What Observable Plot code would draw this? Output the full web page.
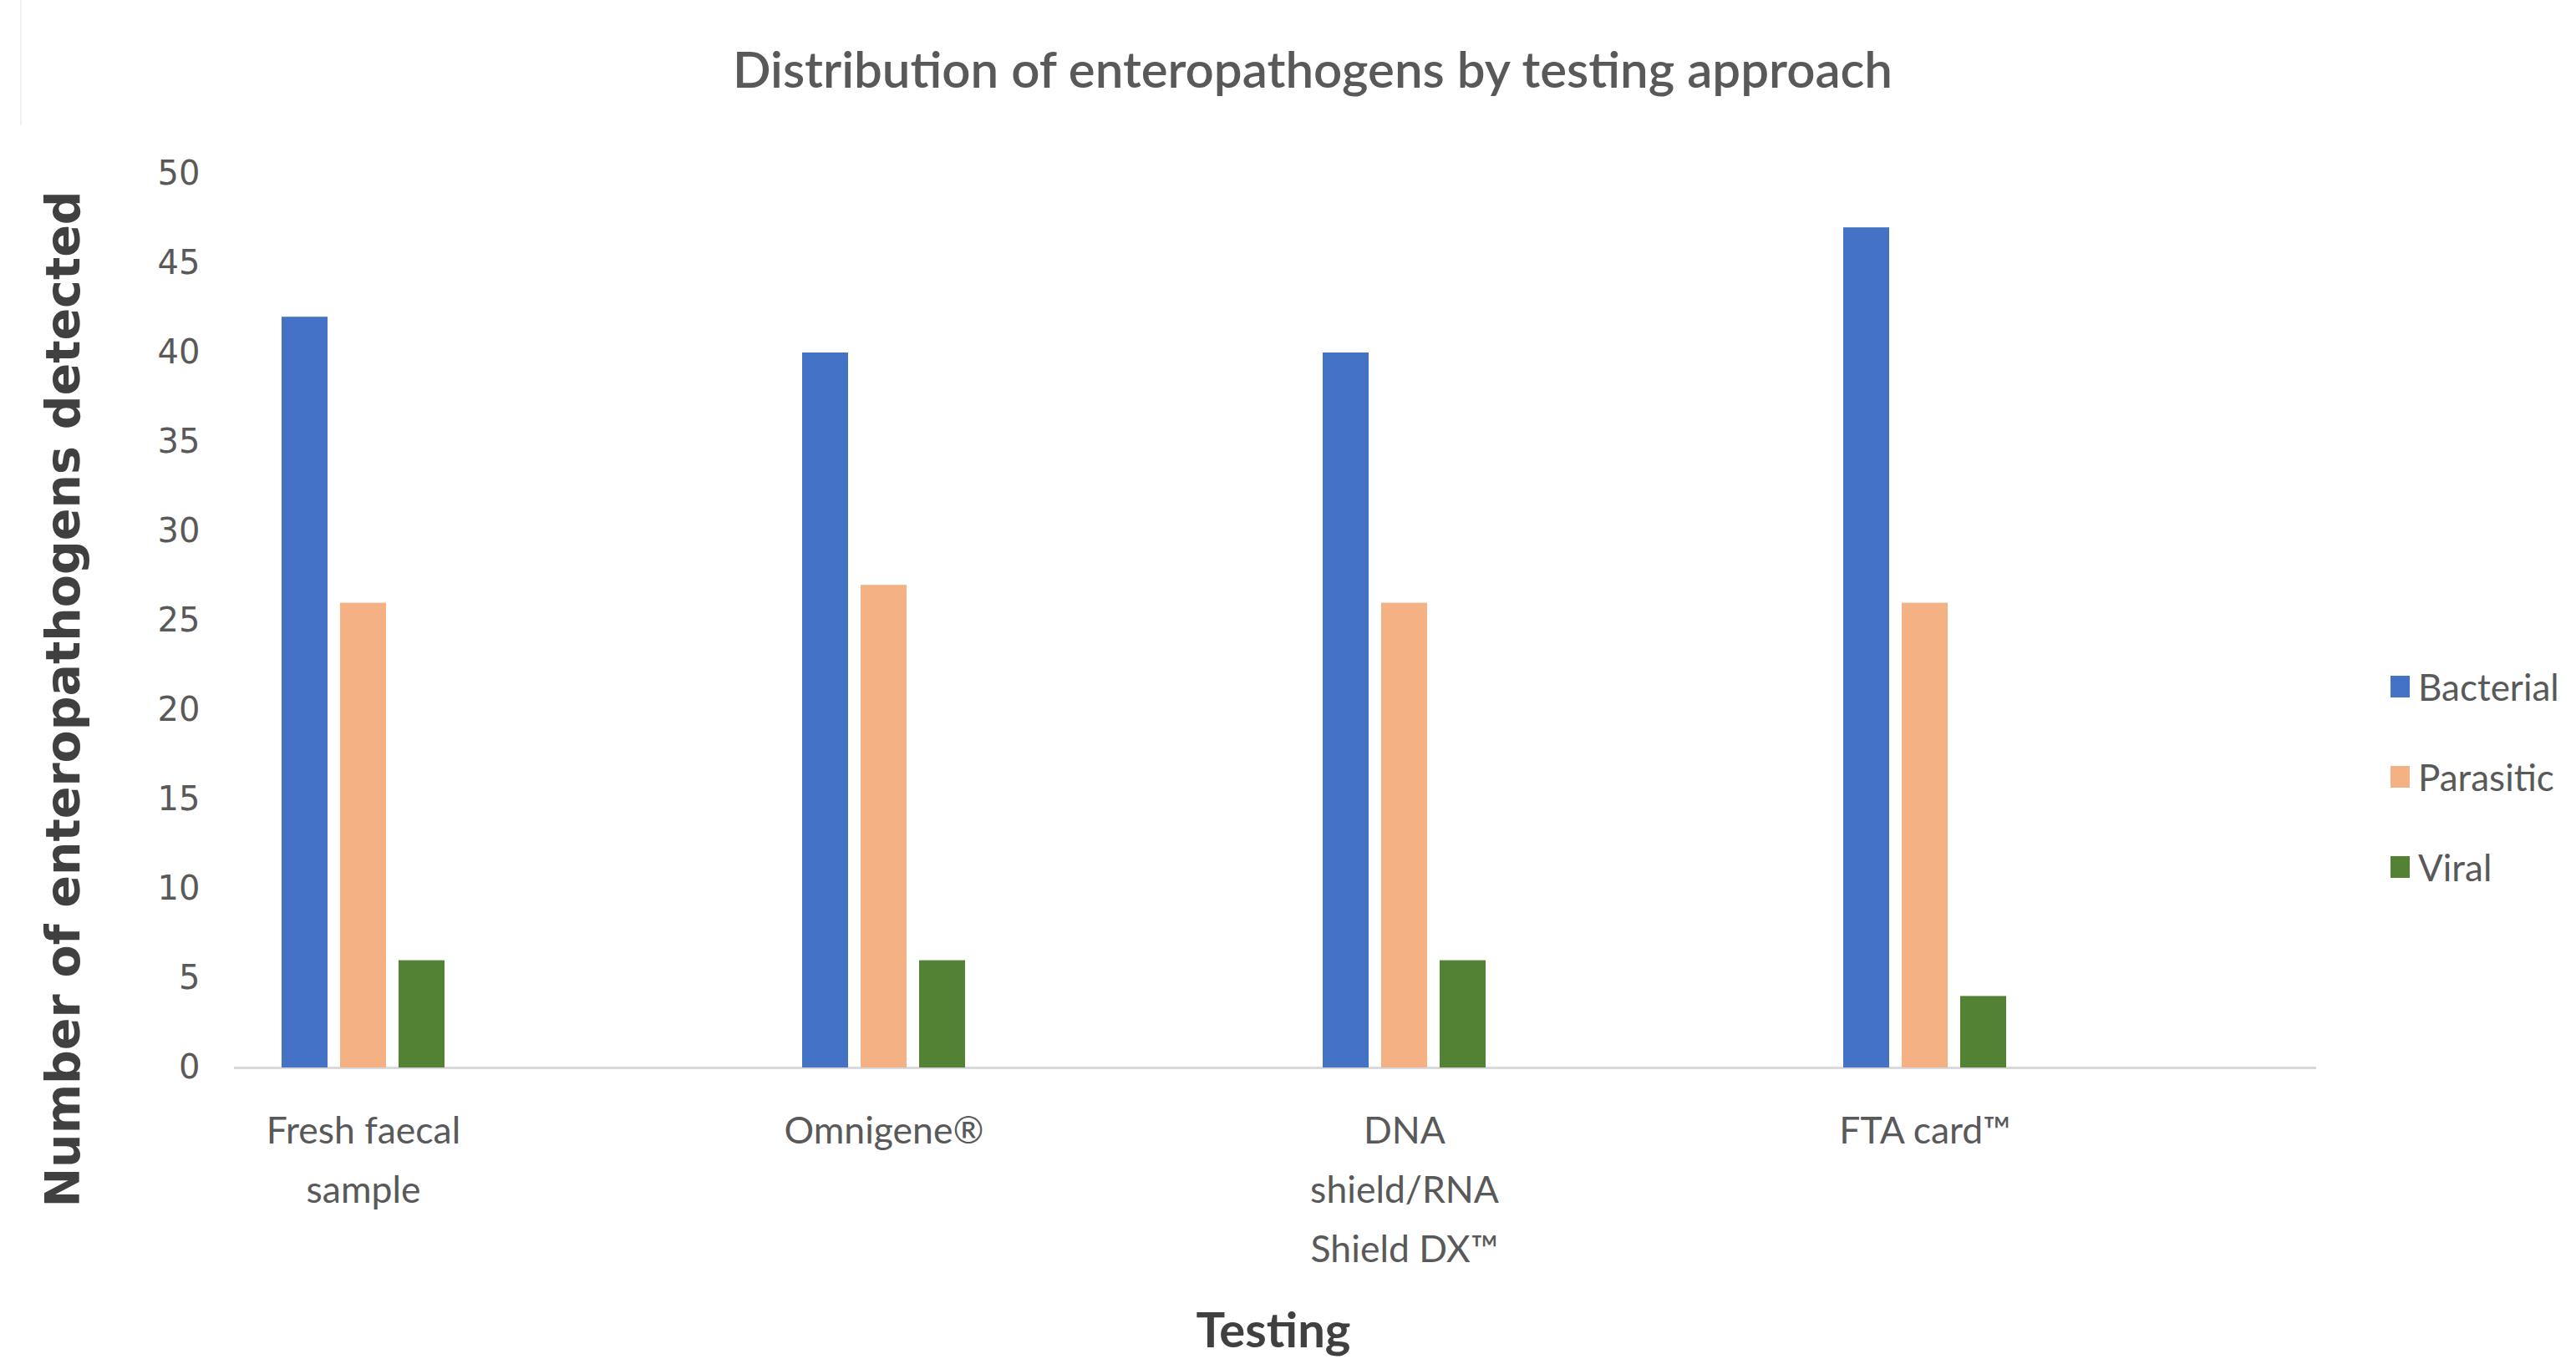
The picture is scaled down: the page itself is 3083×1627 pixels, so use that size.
<!DOCTYPE html>
<html>
<head>
<meta charset="utf-8">
<script src="https://cdn.jsdelivr.net/npm/d3@7"></script>
<script src="https://cdn.jsdelivr.net/npm/@observablehq/plot@0.6"></script>
<style>
  html, body { margin: 0; padding: 0; background: #ffffff; }
  body { width: 3083px; height: 1627px; position: relative; overflow: hidden; font-family: Lato, "Liberation Sans", sans-serif; }
  #title { position: absolute; left: 0; top: 52px; width: 3083px; text-align: center; font-family: Lato, sans-serif; font-size: 60px; line-height: 60px; color: #595959; font-weight: 600; padding-left: 59px; box-sizing: border-box; }
  #chart { position: absolute; left: 0; top: 150px; }
  #ylabel { position: absolute; left: 75px; top: 837px; transform: translate(-50%, -50%) rotate(-90deg); white-space: nowrap; font-family: "DejaVu Sans", sans-serif; font-weight: bold; font-size: 57px; line-height: 57px; color: #404040; }
  #xlabel { position: absolute; left: 1524px; top: 1562px; transform: translateX(-50%); white-space: nowrap; font-family: Lato, sans-serif; font-weight: bold; font-size: 58px; line-height: 58px; color: #404040; }
  #legend { position: absolute; left: 2861px; top: 0; }
  .item { position: absolute; left: 0; height: 60px; display: flex; align-items: center; white-space: nowrap; font-family: Lato, sans-serif; font-size: 44px; color: #595959; }
  .sw { width: 23px; height: 26px; margin-right: 10px; }
  #edge { position: absolute; left: 24px; top: 0; width: 2px; height: 1627px; background: #f1f1f1; }
</style>
</head>
<body>
<div id="edge"></div>
<div id="title"></div>
<div id="chart"></div>
<div id="ylabel"></div>
<div id="xlabel"></div>
<div id="legend"></div>
<script>
// ---- data ----
const categories = ["Fresh faecal sample", "Omnigene®", "DNA shield/RNA Shield DX™", "FTA card™"];
const categoryLabels = ["Fresh faecal\nsample", "Omnigene®", "DNA\nshield/RNA\nShield DX™", "FTA card™"];
const series = ["Bacterial", "Parasitic", "Viral"];
const bacterial = [42, 40, 40, 47];
const parasitic = [26, 27, 26, 26];
const viral = [6, 6, 6, 4];
const seriesColors = ["#4472C4", "#F4B183", "#548235"];
const yTicks = [0, 5, 10, 15, 20, 25, 30, 35, 40, 45, 50];
const titleText = "Distribution of enteropathogens by testing approach";
const yLabelText = "Number of enteropathogens detected";
const xLabelText = "Testing";

// ---- build table ----
const valuesBySeries = [bacterial, parasitic, viral];
const rows = categories.flatMap((c, i) =>
  series.map((s, j) => ({category: c, series: s, value: valuesBySeries[j][i]}))
);

const chart = Plot.plot({
  width: 3083,
  height: 1477,
  marginLeft: 279,
  marginRight: 311,
  marginTop: 58,
  marginBottom: 349,
  fx: {domain: categories, padding: 0, axis: null, label: null},
  x: {domain: series, paddingInner: 0.214, paddingOuter: 3.057, align: 0.133, axis: null, label: null},
  y: {domain: [0, 50], ticks: yTicks, tickSize: 0, tickPadding: 41, label: null},
  color: {domain: series, range: seriesColors},
  style: {fontFamily: "DejaVu Sans", fontSize: "40px", color: "#595959", background: "white"},
  marks: [
    Plot.ruleY([0], {stroke: "#D9D9D9", strokeWidth: 3}),
    Plot.barY(rows, {fx: "category", x: "series", y: "value", fill: "series"}),
    Plot.text(categories, {
      fx: d => d,
      x: () => "Parasitic",
      y: () => 0,
      text: (d, i) => categoryLabels[i],
      lineAnchor: "top",
      dy: 40,
      fontSize: 44.5,
      lineHeight: 1.6,
      fill: "#595959",
      fontFamily: "Lato"
    })
  ]
});
document.getElementById("chart").appendChild(chart);

document.getElementById("title").textContent = titleText;
document.getElementById("ylabel").textContent = yLabelText;
document.getElementById("xlabel").textContent = xLabelText;

const rowCenters = [822, 930, 1038];
const legend = document.getElementById("legend");
series.forEach((s, i) => {
  const item = document.createElement("div");
  item.className = "item";
  item.style.top = (rowCenters[i] - 30) + "px";
  const sw = document.createElement("span");
  sw.className = "sw";
  sw.style.background = seriesColors[i];
  const t = document.createElement("span");
  t.textContent = s;
  item.appendChild(sw);
  item.appendChild(t);
  legend.appendChild(item);
});
</script>
</body>
</html>
